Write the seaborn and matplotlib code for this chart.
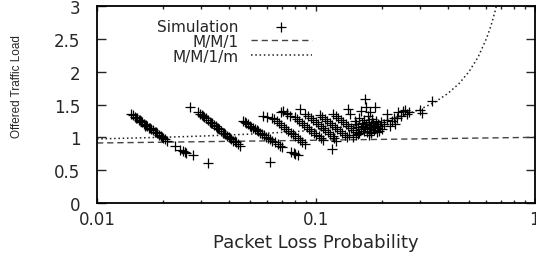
import numpy as np
import matplotlib
matplotlib.use('Agg')
import matplotlib.pyplot as plt
import pandas as pd
import seaborn as sns

# simulation points (packet loss, offered load), one streak per block
sim_loss = [
    # streak 1
    0.0143, 0.0146, 0.0149, 0.0152, 0.0155, 0.0158, 0.0161, 0.0164, 0.0167, 0.0170,
    0.0173, 0.0176, 0.0180, 0.0184, 0.0188, 0.0192, 0.0196, 0.0200, 0.0204, 0.0208,
    0.0150, 0.0157, 0.0166, 0.0175, 0.0186, 0.0198,
    0.0228, 0.0240, 0.0247, 0.0251, 0.0256, 0.0273, 0.0322,
    # streak 2
    0.0266, 0.0290, 0.0296, 0.0302, 0.0308, 0.0314, 0.0320, 0.0327, 0.0334, 0.0341,
    0.0348, 0.0355, 0.0362, 0.0370, 0.0378, 0.0386, 0.0394, 0.0402, 0.0411, 0.0420,
    0.0430, 0.0440, 0.0450, 0.0305, 0.0330, 0.0358, 0.0382, 0.0406, 0.0425,
    # streak 3
    0.0464, 0.0472, 0.0480, 0.0489, 0.0498, 0.0507, 0.0516, 0.0526, 0.0536, 0.0546,
    0.0556, 0.0567, 0.0578, 0.0590, 0.0602, 0.0616, 0.0632,
    0.0650, 0.0668, 0.0685, 0.0700, 0.0770, 0.0790, 0.0805, 0.0825, 0.0617,
    # streak 4
    0.0574, 0.0595, 0.0630, 0.0645, 0.0662, 0.0678, 0.0695, 0.0712, 0.0730, 0.0748,
    0.0766, 0.0785, 0.0805, 0.0825, 0.0846, 0.0867, 0.0890, 0.0695, 0.0738, 0.0845,
    # streak 5
    0.0800, 0.0820, 0.0840, 0.0862, 0.0884, 0.0906, 0.0930, 0.0954, 0.0978, 0.1003,
    0.1029, 0.1055, 0.1082, 0.0706, 0.0740, 0.0761,
    # streak 6
    0.0920, 0.0945, 0.0970, 0.0996, 0.1022, 0.1049, 0.1077, 0.1105, 0.1134, 0.1164,
    0.1195, 0.0891, 0.1240, 0.1180, 0.1210,
    # streak 7
    0.1040, 0.1068, 0.1096, 0.1125, 0.1155, 0.1186, 0.1218, 0.1250, 0.1283, 0.1317,
    0.1352, 0.1388,
    # streak 8
    0.1200, 0.1232, 0.1265, 0.1298, 0.1332, 0.1367, 0.1403, 0.1440, 0.1478, 0.1517,
    0.1557, 0.1400, 0.1430,
    # dense cluster
    0.150, 0.153, 0.156, 0.158, 0.160, 0.162, 0.164, 0.165, 0.166, 0.168,
    0.170, 0.171, 0.172, 0.174, 0.175, 0.176, 0.178, 0.179, 0.180, 0.182,
    0.183, 0.185, 0.186, 0.188, 0.190, 0.192, 0.194, 0.196, 0.198, 0.200,
    0.174, 0.179, 0.189, 0.142, 0.147, 0.152, 0.158,
    0.1674, 0.169, 0.186, 0.160, 0.176,
    0.205, 0.210, 0.212, 0.218, 0.222, 0.226, 0.230, 0.234, 0.238, 0.245,
    0.250, 0.255, 0.260, 0.265, 0.300, 0.305, 0.339,
]
sim_load = [
    1.355, 1.333, 1.310, 1.289, 1.268, 1.247, 1.227, 1.207, 1.187, 1.168,
    1.149, 1.130, 1.106, 1.082, 1.059, 1.036, 1.014, 0.992, 0.970, 0.949,
    1.290, 1.262, 1.178, 1.145, 1.075, 1.010,
    0.868, 0.800, 0.790, 0.775, 0.765, 0.725, 0.610,
    1.467, 1.380, 1.356, 1.333, 1.310, 1.288, 1.266, 1.241, 1.216, 1.192,
    1.168, 1.145, 1.123, 1.097, 1.072, 1.048, 1.024, 1.001, 0.975, 0.950,
    0.923, 0.896, 0.870, 1.325, 1.225, 1.138, 1.060, 0.990, 0.940,
    1.249, 1.232, 1.216, 1.197, 1.179, 1.162, 1.144, 1.125, 1.107, 1.089,
    1.071, 1.051, 1.032, 1.012, 0.992, 0.970, 0.944,
    0.930, 0.905, 0.875, 0.855, 0.780, 0.760, 0.745, 0.730, 0.620,
    1.330, 1.305, 1.300, 1.273, 1.243, 1.215, 1.186, 1.158, 1.129, 1.101,
    1.073, 1.045, 1.016, 0.987, 0.958, 0.930, 0.899, 1.380, 1.355, 1.430,
    1.305, 1.276, 1.248, 1.218, 1.189, 1.161, 1.130, 1.101, 1.072, 1.043,
    1.013, 0.984, 0.955, 1.405, 1.370, 1.330,
    1.330, 1.299, 1.269, 1.238, 1.208, 1.178, 1.147, 1.118, 1.087, 1.057,
    1.027, 1.360, 0.950, 0.830, 0.990,
    1.340, 1.309, 1.279, 1.249, 1.218, 1.188, 1.157, 1.127, 1.097, 1.066,
    1.036, 1.005,
    1.360, 1.329, 1.299, 1.269, 1.239, 1.209, 1.179, 1.149, 1.118, 1.088,
    1.058, 1.430, 1.355,
    1.25, 1.20, 1.15, 1.30, 1.12, 1.22, 1.18, 1.10, 1.27, 1.14,
    1.20, 1.08, 1.32, 1.16, 1.24, 1.12, 1.19, 1.08, 1.28, 1.15,
    1.22, 1.11, 1.18, 1.25, 1.14, 1.20, 1.10, 1.17, 1.23, 1.13,
    1.03, 1.07, 1.08, 1.04, 1.00, 1.03, 1.06,
    1.584, 1.46, 1.46, 1.40, 1.38,
    1.20, 1.26, 1.35, 1.18, 1.25, 1.30, 1.21, 1.30, 1.38, 1.33,
    1.40, 1.42, 1.36, 1.39, 1.42, 1.37, 1.55,
]

# M/M/1 model curve
mm1_loss = [0.01, 0.02, 0.05, 0.1, 0.2, 0.5, 1.0]
mm1_load = [0.914, 0.926, 0.943, 0.956, 0.969, 0.987, 1.0]

# M/M/1/m model curve
mm1m_loss = [0.01, 0.015, 0.02, 0.03, 0.05, 0.08, 0.1, 0.15, 0.2, 0.25,
             0.3, 0.35, 0.4, 0.45, 0.5, 0.55, 0.6, 0.63, 0.66, 0.68]
mm1m_load = [0.976, 0.99, 1.001, 1.019, 1.049, 1.086, 1.111, 1.176, 1.25, 1.333,
             1.429, 1.538, 1.667, 1.818, 2.0, 2.222, 2.5, 2.70, 2.94, 3.125]

sim = pd.DataFrame({'loss': sim_loss, 'load': sim_load})
mm1 = pd.DataFrame({'loss': mm1_loss, 'load': mm1_load})
mm1m = pd.DataFrame({'loss': mm1m_loss, 'load': mm1m_load})

sns.set_style('ticks')
plt.rcParams['font.family'] = ['DejaVu Sans']

fig = plt.figure(figsize=(5.36, 2.55), dpi=100)
ax = fig.add_axes([0.181, 0.2, 0.817, 0.7725])

sns.scatterplot(data=sim, x='loss', y='load', marker='+', s=55, color='black',
                linewidth=0.9, label='Simulation', ax=ax, zorder=3)
sns.lineplot(data=mm1, x='loss', y='load', color='#444444', linewidth=1.0,
             label='M/M/1', ax=ax)
ax.lines[-1].set_dashes([4.5, 2.8])
sns.lineplot(data=mm1m, x='loss', y='load', color='#222222', linewidth=1.1,
             label='M/M/1/m', ax=ax)
ax.lines[-1].set_dashes([1.0, 1.8])

ax.set_xscale('log')
ax.set_xlim(0.01, 1)
ax.set_ylim(0, 3)
ax.set_xticks([0.01, 0.1, 1])
ax.set_xticklabels(['0.01', '0.1', '1'])
ax.set_yticks([0, 0.5, 1, 1.5, 2, 2.5, 3])
ax.set_yticklabels(['0', '0.5', '1', '1.5', '2', '2.5', '3'])

for s in ax.spines.values():
    s.set_visible(True)
    s.set_linewidth(1.3)
    s.set_color('black')

ax.tick_params(axis='y', which='major', direction='in', length=6.5, width=1,
               labelsize=12, pad=12, right=True)
ax.tick_params(axis='x', which='major', direction='in', length=3.6, width=1,
               labelsize=12, pad=5, top=True)
ax.tick_params(axis='x', which='minor', direction='in', length=2.2, width=1,
               top=True)

ax.set_xlabel('Packet Loss Probability', fontsize=13, labelpad=4)
ax.set_ylabel('Offered Traffic Load', fontsize=8.5,
              family=['Liberation Sans Narrow', 'Liberation Sans'])
ax.yaxis.set_label_coords(-0.17, 0.594)

leg = ax.legend(markerfirst=False, frameon=False, loc='upper right',
                bbox_to_anchor=(0.491, 0.935), borderpad=0, borderaxespad=0,
                fontsize=11, labelspacing=0.0, handlelength=4.0,
                handletextpad=0.8)

fig.savefig('out.png', dpi=100)
